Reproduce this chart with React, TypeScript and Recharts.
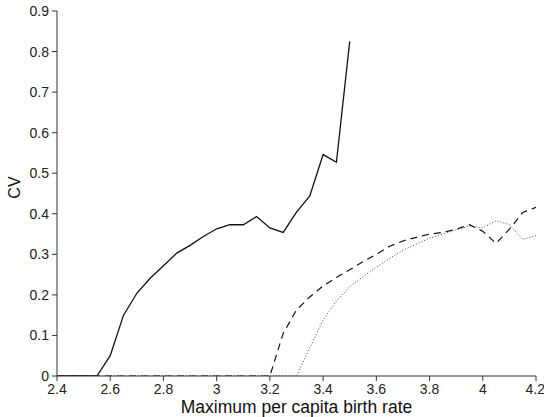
import { LineChart, Line, XAxis, YAxis, Label } from 'recharts'

const birthRate = [
  2.4, 2.45, 2.5, 2.55, 2.6, 2.65, 2.7, 2.75, 2.8, 2.85, 2.9, 2.95, 3.0, 3.05, 3.1, 3.15, 3.2, 3.25, 3.3,
  3.35, 3.4, 3.45, 3.5, 3.55, 3.6, 3.65, 3.7, 3.75, 3.8, 3.85, 3.9, 3.95, 4.0, 4.05, 4.1, 4.15, 4.2,
]

const solidCv = [
  0, 0, 0, 0, 0.05, 0.15, 0.204, 0.241, 0.272, 0.303, 0.322, 0.344, 0.363, 0.373, 0.373, 0.393, 0.365,
  0.354, 0.404, 0.444, 0.546, 0.527, 0.825,
  null, null, null, null, null, null, null, null, null, null, null, null, null, null,
]

const dashedCv = [
  0, 0, 0, 0, 0, 0, 0, 0, 0, 0, 0, 0, 0, 0, 0, 0, 0,
  0.105, 0.163, 0.195, 0.222, 0.243, 0.262, 0.282, 0.3, 0.32, 0.333, 0.342, 0.35, 0.354, 0.362, 0.373,
  0.357, 0.327, 0.362, 0.403, 0.416,
]

const dottedCv = [
  0, 0, 0, 0, 0, 0, 0, 0, 0, 0, 0, 0, 0, 0, 0, 0, 0, 0, 0,
  0.07, 0.138, 0.185, 0.22, 0.245, 0.268, 0.29, 0.31, 0.325, 0.34, 0.35, 0.36, 0.37, 0.365, 0.383,
  0.373, 0.337, 0.346,
]

const xTicks = [2.4, 2.6, 2.8, 3, 3.2, 3.4, 3.6, 3.8, 4, 4.2]
const yTicks = [0, 0.1, 0.2, 0.3, 0.4, 0.5, 0.6, 0.7, 0.8, 0.9]

const chartData = birthRate.map((x, i) => ({
  x,
  solid: solidCv[i],
  dashed: dashedCv[i],
  dotted: dottedCv[i],
}))

const font = '"Liberation Sans", Arial, sans-serif'
const tickStyle = { fontSize: 14, fill: '#222', fontFamily: font }

export default function App() {
  return (
    <div style={{ position: 'absolute', left: 0, top: 0, background: '#fff' }}>
      <LineChart
        width={544}
        height={417}
        data={chartData}
        margin={{ top: 11, right: 8, left: 0, bottom: 0 }}
      >
        <XAxis
          dataKey="x"
          type="number"
          domain={[2.4, 4.2]}
          ticks={xTicks}
          allowDataOverflow
          height={41}
          stroke="#333"
          tick={tickStyle}
          tickSize={5}
          tickMargin={3}
        >
          <Label
            value="Maximum per capita birth rate"
            position="insideBottom"
            offset={4}
            style={{ fontSize: 17.5, fill: '#111', fontFamily: font }}
          />
        </XAxis>
        <YAxis
          type="number"
          domain={[0, 0.9]}
          ticks={yTicks}
          allowDataOverflow
          width={57}
          stroke="#333"
          tick={tickStyle}
          tickSize={5}
          tickMargin={3}
        >
          <Label
            content={({ viewBox }: any) => {
              // CV sits a bit above the middle of the axis in the original
              const cx = viewBox.x + 14
              const cy = viewBox.y + viewBox.height / 2 - 6
              return (
                <text
                  x={cx}
                  y={cy}
                  transform={`rotate(-90 ${cx} ${cy})`}
                  textAnchor="middle"
                  dominantBaseline="central"
                  style={{ fontSize: 16, fill: '#111', fontFamily: font }}
                >
                  CV
                </text>
              )
            }}
          />
        </YAxis>
        <Line
          type="linear"
          dataKey="dotted"
          stroke="#444"
          strokeWidth={1}
          strokeDasharray="1 2"
          dot={false}
          isAnimationActive={false}
        />
        <Line
          type="linear"
          dataKey="dashed"
          stroke="#111"
          strokeWidth={1.2}
          strokeDasharray="7 5"
          dot={false}
          isAnimationActive={false}
        />
        <Line
          type="linear"
          dataKey="solid"
          stroke="#111"
          strokeWidth={1.3}
          dot={false}
          isAnimationActive={false}
        />
      </LineChart>
    </div>
  )
}
